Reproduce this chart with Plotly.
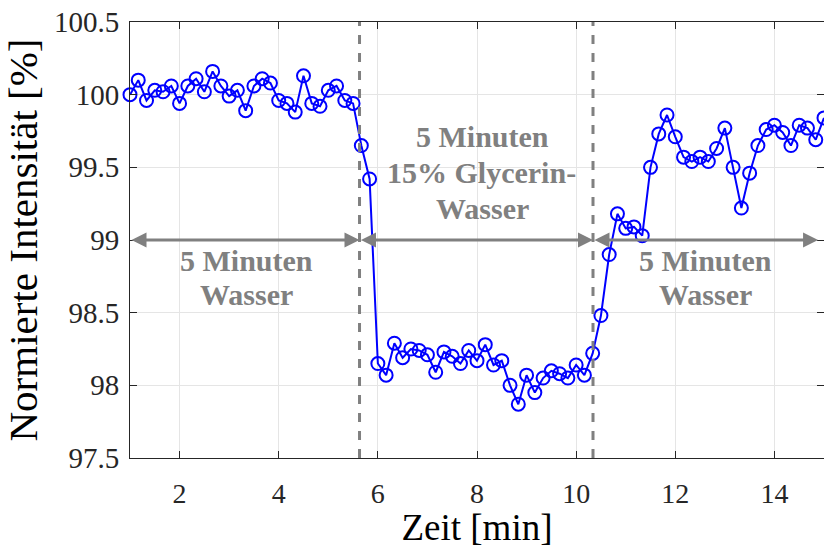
import plotly.graph_objects as go

# time in minutes (10 s steps from 1 to 15 min)
n_points = 85
zeit = [1 + i / 6 for i in range(n_points)]

intensitaet = [
    100.00, 100.10, 99.96, 100.03, 100.02, 100.06, 99.94, 100.06, 100.11, 100.02,
    100.16, 100.06, 99.99, 100.03, 99.89, 100.06, 100.11, 100.08, 99.96, 99.94,
    99.88, 100.13, 99.94, 99.92, 100.03, 100.06, 99.96, 99.94,
    99.65, 99.42,
    98.15, 98.07, 98.29, 98.19, 98.25, 98.24, 98.21, 98.09, 98.23, 98.20,
    98.15, 98.24, 98.17, 98.28, 98.14, 98.17, 98.00, 97.87, 98.07, 97.95,
    98.05, 98.10, 98.08, 98.05, 98.14, 98.07, 98.22,
    98.48, 98.90, 99.18, 99.08, 99.09, 99.03, 99.50, 99.73, 99.86, 99.71,
    99.57, 99.54, 99.57, 99.54, 99.63, 99.77, 99.50, 99.22, 99.46, 99.65,
    99.76, 99.79, 99.74, 99.65, 99.79, 99.77, 99.69, 99.84,
]

phase_grenzen = [1.0, 5.63, 10.34, 14.88]
pfeil_y = 99.0

# text blocks: each line separately (x, y, text)
text_zeilen = [
    (3.35, 98.86, "5 Minuten"),
    (3.35, 98.625, "Wasser"),
    (8.12, 99.71, "5 Minuten"),
    (8.1, 99.465, "15% Glycerin-"),
    (8.12, 99.22, "Wasser"),
    (12.6, 98.86, "5 Minuten"),
    (12.6, 98.625, "Wasser"),
]

x_ticks = [2, 4, 6, 8, 10, 12, 14]
y_ticks = [97.5, 98, 98.5, 99, 99.5, 100, 100.5]
y_tick_text = ["97.5", "98", "98.5", "99", "99.5", "100", "100.5"]

grau = "#808080"
achse = "#262626"
serif = "Liberation Serif, Times New Roman, serif"

fig = go.Figure()
fig.add_trace(go.Scatter(
    x=zeit, y=intensitaet, mode="lines+markers",
    line=dict(color="#0000FF", width=2),
    marker=dict(symbol="circle-open", size=13, color="#0000FF", line=dict(width=2)),
    showlegend=False, cliponaxis=False,
))

shapes = []
for xv in phase_grenzen[1:3]:
    shapes.append(dict(type="line", xref="x", yref="paper", x0=xv, x1=xv, y0=0, y1=1,
                       line=dict(color=grau, width=3, dash="dash"), layer="above"))

annotations = []
for k in range(3):
    a, b = phase_grenzen[k], phase_grenzen[k + 1]
    annotations.append(dict(
        x=b, y=pfeil_y, ax=a, ay=pfeil_y, xref="x", yref="y", axref="x", ayref="y",
        text="", showarrow=True, arrowhead=2, startarrowhead=2, arrowside="end+start",
        arrowsize=1.0, startarrowsize=1.0, arrowwidth=3, arrowcolor=grau,
        standoff=0, startstandoff=0,
    ))
for tx, ty, tt in text_zeilen:
    annotations.append(dict(
        x=tx, y=ty, xref="x", yref="y", text="<b>" + tt + "</b>", yanchor="middle",
        showarrow=False, font=dict(family=serif, size=30, color=grau), align="center",
    ))

fig.update_layout(
    width=824, height=548,
    margin=dict(l=130, r=0, t=22, b=90),
    paper_bgcolor="white", plot_bgcolor="white",
    shapes=shapes, annotations=annotations,
    font=dict(family=serif, color=achse),
    xaxis=dict(
        range=[1, 15], tickvals=x_ticks, ticks="inside", ticklen=7, tickcolor=achse,
        showgrid=True, gridcolor="#e5e5e5", gridwidth=1, zeroline=False,
        showline=True, linecolor=achse, linewidth=1, mirror="ticks",
        tickfont=dict(family=serif, size=28, color=achse), ticklabelstandoff=10,
        title=dict(text="Zeit [min]", font=dict(family=serif, size=37, color="#000000"), standoff=2),
    ),
    yaxis=dict(
        range=[97.5, 100.5], tickvals=y_ticks, ticktext=y_tick_text, ticks="inside", ticklen=7,
        tickcolor=achse,
        showgrid=True, gridcolor="#e5e5e5", gridwidth=1, zeroline=False,
        showline=True, linecolor=achse, linewidth=1, mirror="ticks",
        tickfont=dict(family=serif, size=29, color=achse), ticklabelstandoff=4,
        title=dict(text="Normierte Intensität [%]", font=dict(family=serif, size=41, color="#000000"), standoff=11),
    ),
)

fig.write_html("out.html", config={"displayModeBar": False},
               post_script="document.body.style.margin='0';")
